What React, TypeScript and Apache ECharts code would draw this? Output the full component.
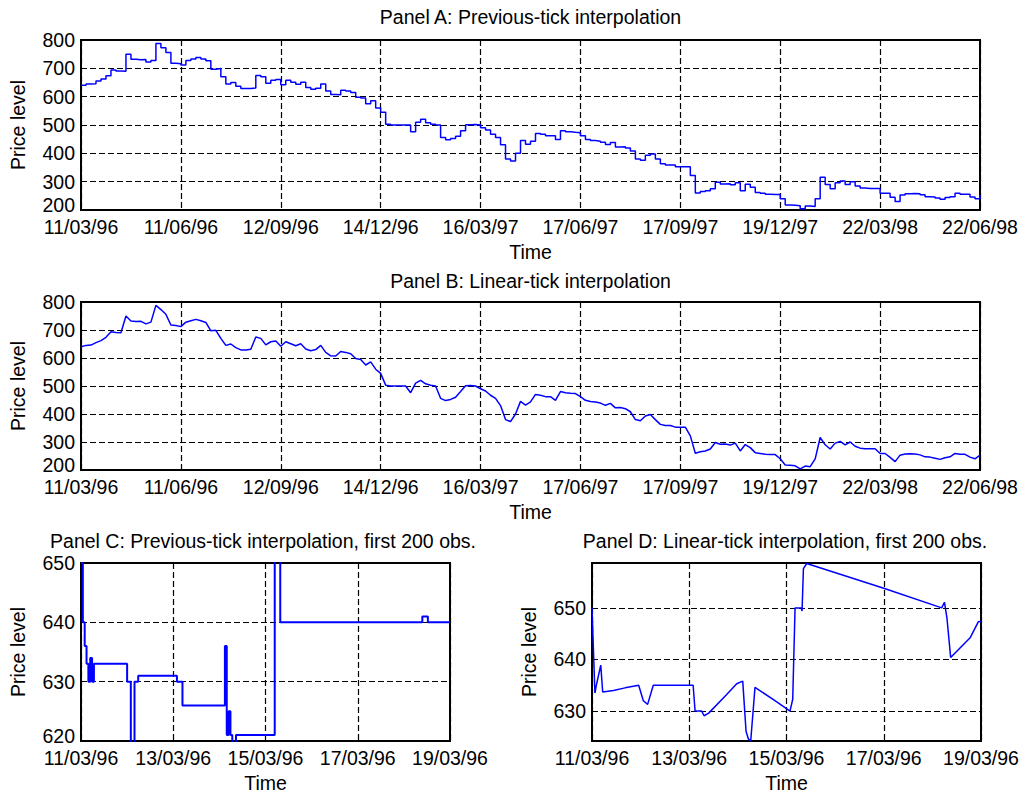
import React, { useEffect, useRef } from "react";
import * as echarts from "echarts";

// Panels A & B: sampled price path (x = sample index, 20 samples per tick interval)
const ticksAB = ["11/03/96", "11/06/96", "12/09/96", "14/12/96", "16/03/97", "17/06/97", "17/09/97", "19/12/97", "22/03/98", "22/06/98"];
const priceAB = [
  640, 645, 646, 655, 662, 674, 694, 691, 690, 750,
  732, 730, 731, 722, 728, 788, 773, 756, 718, 716,
  712, 728, 733, 738, 733, 727, 697, 699, 670, 645,
  650, 637, 629, 629, 631, 675, 670, 647, 658, 661,
  642, 658, 651, 644, 651, 632, 626, 630, 645, 620,
  608, 607, 623, 620, 615, 598, 595, 575, 586, 560,
  545, 503, 500, 500, 500, 500, 476, 510, 520, 508,
  503, 500, 456, 448, 452, 460, 480, 501, 502, 500,
  490, 482, 467, 456, 430, 380, 373, 400, 445, 432,
  443, 470, 467, 462, 462, 449, 480, 476, 474, 473,
  462, 449, 445, 443, 439, 431, 438, 422, 423, 419,
  408, 380, 376, 393, 398, 380, 363, 359, 359, 353,
  353, 353, 322, 260, 265, 268, 275, 298, 292, 293,
  289, 296, 268, 291, 280, 262, 259, 256, 255, 255,
  240, 218, 217, 215, 204, 214, 212, 240, 316, 290,
  275, 296, 302, 290, 300, 285, 278, 276, 276, 276,
  259, 259, 245, 230, 253, 257, 258, 257, 254, 247,
  246, 242, 238, 244, 247, 259, 256, 256, 246, 240,
  253,
];

// Panels C & D: first 200 observations
const ticksCD = ["11/03/96", "13/03/96", "15/03/96", "17/03/96", "19/03/96"];
const obsC = [0, 1, 2, 3, 4, 5, 6, 7, 25, 27, 29, 31, 52, 55, 78, 79, 80, 81, 82, 84, 105, 108, 185, 188, 200];
const priceC = [650, 640, 636, 633, 630, 634, 630, 633, 630, 615, 630, 631, 630, 626, 636, 621, 625, 621, 618, 621, 660, 640, 641, 640, 640];
const obsD = [0, 1.5, 2.4, 4.5, 5.5, 11, 17, 24, 26.4, 28.6, 31.5, 52, 53, 56.4, 57.6, 60, 69, 74.4, 77.5, 79.2, 80.4, 81.6, 83.8, 95, 101.8, 103.2, 104.4, 107.5, 108, 108.7, 110.4, 150, 179.8, 181.2, 182.5, 184.4, 194.4, 198.6, 200];
const priceD = [650, 633.5, 635.3, 638.9, 633.7, 634.0, 634.5, 635.0, 632.0, 631.3, 635.0, 635.0, 630.0, 630.0, 629.1, 629.6, 633.1, 635.3, 635.8, 626.1, 624.6, 624.2, 634.6, 631.8, 630.0, 632.3, 650.0, 650.0, 649.4, 657.6, 658.6, 653.8, 650.0, 651.1, 648.0, 640.4, 644.2, 647.3, 647.4];

const FONT = "'Liberation Sans', Arial, Helvetica, sans-serif";
const FS = 19.5;

export default function App() {
  const ref = useRef<HTMLDivElement>(null);
  useEffect(() => {
    if (!ref.current) return;
    const chart = echarts.init(ref.current, undefined, { renderer: "svg" });
    const txt = { color: "#000", fontFamily: FONT, fontSize: FS };
    const split = { show: true, lineStyle: { color: "#000", type: [6, 3] as any, width: 1.2 } };
    const axLine = { show: true, onZero: false, lineStyle: { color: "#000", width: 2 } };
    const mkX = (gi: number, max: number, interval: number, labels: string[]) => ({
      type: "value", gridIndex: gi, min: 0, max, interval,
      axisLine: axLine, axisTick: { show: false }, splitLine: split,
      axisLabel: { ...txt, margin: 7, formatter: (v: number) => labels[Math.round(v / interval)] ?? "" },
      name: "Time", nameLocation: "middle", nameGap: 32, nameTextStyle: txt,
    });
    const mkY = (gi: number, min: number, extra: any) => ({
      type: "value", gridIndex: gi, min,
      axisLine: axLine, axisTick: { show: false }, splitLine: split,
      axisLabel: {
        ...txt, margin: 6,
        formatter: (v: number) => (v === min ? `{lo|${v}}` : String(v)),
        rich: { lo: { ...txt, padding: [0, 0, 10, 0] } },
      },
      name: "Price level", nameLocation: "middle", nameGap: 53, nameTextStyle: txt,
      ...extra,
    });
    const titles = [
      { t: "Panel A: Previous-tick interpolation", x: 530.5, y: 17 },
      { t: "Panel B: Linear-tick interpolation", x: 530.5, y: 281 },
      { t: "Panel C: Previous-tick interpolation, first 200 obs.", x: 263, y: 540.5 },
      { t: "Panel D: Linear-tick interpolation, first 200 obs.", x: 785, y: 540.5 },
    ];
    const gridBase = { show: true, borderColor: "#000", borderWidth: 2, backgroundColor: "#fff", containLabel: false };
    chart.setOption({
      animation: false,
      backgroundColor: "#fff",
      grid: [
        { ...gridBase, left: 81, top: 40, width: 899, height: 170 },
        { ...gridBase, left: 81, top: 302, width: 899, height: 168 },
        { ...gridBase, left: 81, top: 563, width: 369, height: 180 },
        { ...gridBase, left: 592, top: 563, width: 389, height: 180 },
      ],
      xAxis: [
        mkX(0, 180, 20, ticksAB),
        mkX(1, 180, 20, ticksAB),
        mkX(2, 200, 50, ticksCD),
        mkX(3, 200, 50, ticksCD),
      ],
      yAxis: [
        mkY(0, 200, { max: 800, interval: 100 }),
        mkY(1, 200, { max: 800, interval: 100 }),
        mkY(2, 620, { max: 650, interval: 10 }),
        mkY(3, 624.2, {
          max: 658.7, splitNumber: 3,
          axisLabel: {
            ...txt, margin: 6,
            formatter: (v: number) => (Math.abs(v - Math.round(v / 10) * 10) < 1e-6 ? String(Math.round(v)) : ""),
          },
        }),
      ],
      graphic: titles.map((o) => ({
        type: "text", x: o.x, y: o.y,
        style: { text: o.t, font: `${FS}px ${FONT}`, fill: "#000", textAlign: "center", textVerticalAlign: "middle" },
      })),
      series: [
        {
          type: "line", xAxisIndex: 0, yAxisIndex: 0, step: "end", showSymbol: false, symbol: "none",
          data: priceAB.map((v, i) => [i, v]), lineStyle: { color: "#0000ff", width: 1.5 }, clip: true,
        },
        {
          type: "line", xAxisIndex: 1, yAxisIndex: 1, showSymbol: false, symbol: "none",
          data: priceAB.map((v, i) => [i, v]), lineStyle: { color: "#0000ff", width: 1.5 }, clip: true,
        },
        {
          type: "line", xAxisIndex: 2, yAxisIndex: 2, step: "end", showSymbol: false, symbol: "none",
          data: obsC.map((x, i) => [x, priceC[i]]), lineStyle: { color: "#0000ff", width: 2 }, clip: true,
        },
        {
          type: "line", xAxisIndex: 3, yAxisIndex: 3, showSymbol: false, symbol: "none",
          data: obsD.map((x, i) => [x, priceD[i]]), lineStyle: { color: "#0000ff", width: 1.5 }, clip: true,
        },
      ],
    });
    return () => chart.dispose();
  }, []);
  return <div ref={ref} style={{ position: "absolute", left: 0, top: 0, width: 1023, height: 794, background: "#fff" }} />;
}
